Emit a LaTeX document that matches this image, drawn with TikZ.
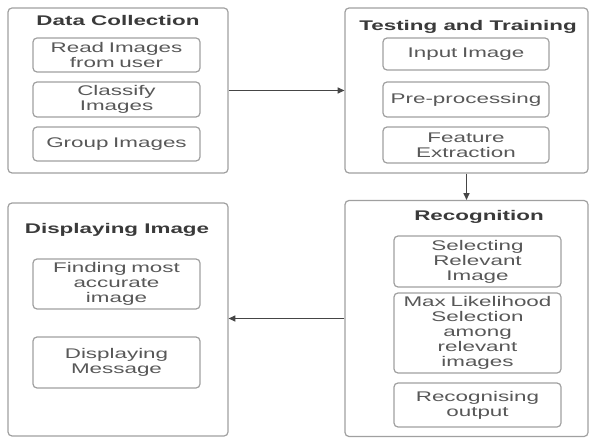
\documentclass[tikz,border=0pt]{standalone}
\usepackage{fontspec}
\setmainfont{Liberation Sans}[FakeStretch=1.6]
\usetikzlibrary{arrows.meta}
\definecolor{boxline}{HTML}{A0A0A0}
\definecolor{titletxt}{HTML}{3A3A3A}
\definecolor{innertxt}{HTML}{585858}
\definecolor{arrowcol}{HTML}{454545}
\newcommand{\pxu}{0.75pt}
\tikzset{
  outerbox/.style={draw=boxline, line width=0.9pt, rounded corners=3pt, inner sep=0pt},
  innerbox/.style={draw=boxline, line width=0.9pt, rounded corners=3pt, inner sep=0pt,
    text width=120pt, align=center, text=innertxt,
    font=\fontsize{10.5pt}{11.25pt}\selectfont},
  titletext/.style={font=\bfseries\fontsize{10.5pt}{11.25pt}\selectfont, text=titletxt, inner sep=0pt},
  arr/.style={draw=arrowcol, line width=0.8pt, -{Triangle[length=5pt,width=4.5pt]}}
}
\begin{document}
\begin{tikzpicture}[x=0.75pt, y=-0.75pt]
\useasboundingbox (0,0) rectangle (592,438);
\fill[white] (0,0) rectangle (592,438);
% outer boxes
\node[outerbox, minimum width=220*\pxu, minimum height=165*\pxu] (dc) at (118,90.5) {};
\node[outerbox, minimum width=243*\pxu, minimum height=165*\pxu] (tt) at (466.5,90.5) {};
\node[outerbox, minimum width=220*\pxu, minimum height=233*\pxu] (di) at (118,319.5) {};
\node[outerbox, minimum width=243*\pxu, minimum height=236*\pxu] (rec) at (466.5,318.5) {};
% titles
\node[titletext] (dct) at (118,20) {Data Collection};
\node[titletext] (ttt) at (468,27) {Testing and Training};
\node[titletext] (dit) at (117,230) {Displaying Image};
\node[titletext] (rect) at (479,217) {Recognition};
% data collection inner
\node[innerbox, minimum width=167*\pxu, minimum height=34*\pxu] (dc1) at (116.5,55) {Read Images\\from user};
\node[innerbox, minimum width=167*\pxu, minimum height=35*\pxu] (dc2) at (116.5,99.5) {Classify\\Images};
\node[innerbox, minimum width=167*\pxu, minimum height=34*\pxu] (dc3) at (116.5,144) {Group Images};
% testing and training inner
\node[innerbox, minimum width=166*\pxu, minimum height=32*\pxu] (tt1) at (466,54) {Input Image};
\node[innerbox, minimum width=166*\pxu, minimum height=35*\pxu] (tt2) at (466,99.5) {Pre-processing};
\node[innerbox, minimum width=166*\pxu, minimum height=36*\pxu] (tt3) at (466,145) {Feature\\Extraction};
% displaying image inner
\node[innerbox, minimum width=167*\pxu, minimum height=50*\pxu] (di1) at (116.5,284) {Finding most\\accurate\\image};
\node[innerbox, minimum width=167*\pxu, minimum height=51*\pxu] (di2) at (116.5,362.5) {Displaying\\Message};
% recognition inner
\node[innerbox, minimum width=167*\pxu, minimum height=51*\pxu] (rec1) at (477.5,261.5) {Selecting\\Relevant\\Image};
\node[innerbox, minimum width=167*\pxu, minimum height=80*\pxu] (rec2) at (477.5,333) {Max Likelihood\\Selection\\among\\relevant\\images};
\node[innerbox, minimum width=167*\pxu, minimum height=44*\pxu] (rec3) at (477.5,405) {Recognising\\output};
% connectors
\draw[arr] (dc.east) -- (tt.west);
\draw[arr] (tt.south) -- (rec.north);
\draw[arr] (rec.west) -- (di.east |- rec.west);
\end{tikzpicture}
\end{document}
